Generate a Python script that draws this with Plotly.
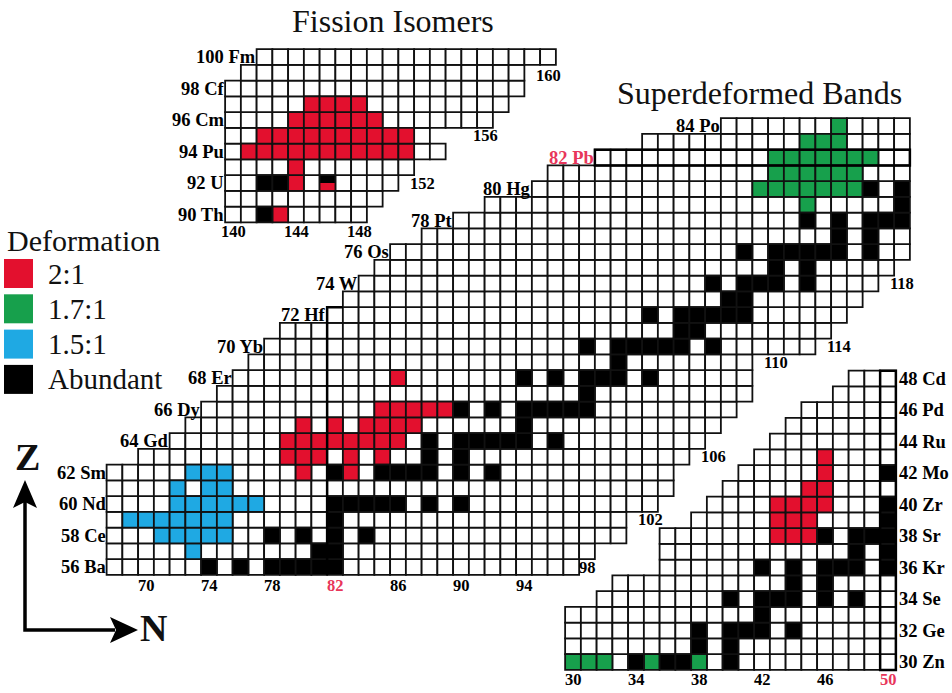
import plotly.graph_objects as go

FIG_W, FIG_H = 952, 693
CELL = 15.75          # pixels per unit of N or Z (square cells)
SERIF = "Liberation Serif"

RED = "#E3102E"
GREEN = "#17A04C"
BLUE = "#1FA9E3"
BLACK = "#000000"
LABEL_RED = "#E8365A"

# ---------------------------------------------------------------- main panel
main_Z = list(range(56, 85))
main_Nmin = [68, 68, 68, 68, 68, 68, 68,
             70, 72, 73, 74, 75, 76, 77, 78, 79,
             82, 83, 84, 85, 86, 88, 90, 92, 95, 96, 99, 102, 107]
main_Nmax = [97, 98, 100, 100, 102, 103, 103, 104, 105, 106, 107, 108, 108, 108,
             112, 113, 114, 115, 116, 117,
             118, 118, 118, 118, 118, 118, 118, 118, 118]
main_elem = {56: "Ba", 58: "Ce", 60: "Nd", 62: "Sm", 64: "Gd", 66: "Dy",
             68: "Er", 70: "Yb", 72: "Hf", 74: "W", 76: "Os", 78: "Pt",
             80: "Hg", 82: "Pb", 84: "Po"}
main_N_ticks = [70, 74, 78, 82, 86, 90, 94]
main_edge_N = [98, 102, 106, 110, 114, 118]
main_edge_Z = [56, 59, 63, 69, 70, 74]

main_stable = {
    56: [74, 76, 78, 79, 80, 81, 82], 57: [81, 82], 58: [78, 80, 82, 84],
    59: [82], 60: [82, 83, 84, 85, 86, 88, 90], 62: [82, 85, 86, 87, 88, 90, 92],
    63: [88, 90], 64: [88, 90, 91, 92, 93, 94, 96], 65: [94],
    66: [90, 92, 94, 95, 96, 97, 98], 67: [98], 68: [94, 96, 98, 99, 100, 102],
    69: [100], 70: [98, 100, 101, 102, 103, 104, 106], 71: [104, 105],
    72: [102, 104, 105, 106, 107, 108], 73: [107, 108],
    74: [106, 108, 109, 110, 112], 75: [110, 112],
    76: [108, 110, 111, 112, 113, 114, 116], 77: [114, 116],
    78: [112, 114, 116, 117, 118], 79: [118], 80: [116, 118],
}
main_red = {68: [86], 66: [85, 86, 87, 88, 89], 65: [80, 82, 84, 85, 86, 87],
            64: [79, 80, 81, 82, 83, 84, 85, 86], 63: [79, 80, 81, 83, 85],
            62: [80, 83]}
main_blue = {62: [73, 74, 75], 61: [72, 74, 75], 60: [72, 73, 74, 75, 76, 77],
             59: [69, 70, 71, 72, 73, 74, 75], 58: [71, 72, 73, 74, 75], 57: [73]}
main_green = {84: [114], 83: [112, 113, 114],
              82: [110, 111, 112, 113, 114, 115, 116],
              81: [110, 111, 112, 113, 114, 115],
              80: [109, 110, 111, 112, 113, 114, 115], 79: [112]}

# ----------------------------------------------------------- actinide panel
act_Z = list(range(90, 101))
act_Nmin = [140, 140, 140, 140, 140, 140, 140, 140, 140, 141, 142]
act_Nmax = [148, 149, 150, 151, 153, 152, 156, 157, 158, 158, 160]
act_elem = {90: "Th", 92: "U", 94: "Pu", 96: "Cm", 98: "Cf", 100: "Fm"}
act_N_ticks = [140, 144, 148]
act_edge_N = [152, 156, 160]
act_edge_Z = [92, 95, 98.8]
act_stable = {90: [142], 92: [142, 143, 146]}
act_red = {97: [145, 146, 147, 148], 96: [144, 145, 146, 147, 148, 149],
           95: list(range(142, 152)), 94: list(range(141, 152)),
           93: [144], 92: [144], 90: [143]}
act_split = [(92, 146)]   # abundant isotope that also has a fission isomer

# ------------------------------------------------------ lower-right panel
lr_Z = list(range(30, 49))
lr_Nmin = [30, 30, 30, 30, 32, 33, 36, 36, 36, 38, 39, 40, 41, 42, 43, 44, 45, 47, 48]
lr_Nmax = [50] * 19
lr_elem = {30: "Zn", 32: "Ge", 34: "Se", 36: "Kr", 38: "Sr", 40: "Zr",
           42: "Mo", 44: "Ru", 46: "Pd", 48: "Cd"}
lr_N_ticks = [30, 34, 38, 42, 46, 50]
lr_stable = {30: [34, 36, 37, 38, 40], 31: [38, 40], 32: [38, 40, 41, 42, 44],
             33: [42], 34: [40, 42, 43, 44, 46, 48], 35: [44, 46],
             36: [42, 44, 46, 47, 48, 50], 37: [48, 50], 38: [46, 48, 49, 50],
             39: [50], 40: [50], 42: [50]}
lr_red = {43: [46], 42: [46], 41: [45, 46], 40: [43, 44, 45, 46],
          39: [43, 44, 45], 38: [43, 44, 45]}
lr_green = {30: [30, 31, 32, 35, 38]}


# --------------------------------------------------------------- helpers
def x_range(ref_n, ref_px):
    lo = ref_n - ref_px / CELL
    return [lo, lo + FIG_W / CELL]


def y_range(ref_z, ref_px):
    hi = ref_z + ref_px / CELL
    return [hi - FIG_H / CELL, hi]


def classify(zs, nmins, nmaxs, stable, colours):
    """Return {category: ([N], [Z])} for every cell of a panel."""
    out = {k: ([], []) for k in ["white", "black", "red", "green", "blue"]}
    for z, n0, n1 in zip(zs, nmins, nmaxs):
        for n in range(n0, n1 + 1):
            cat = "white"
            if n in stable.get(z, []):
                cat = "black"
            for name, table in colours.items():
                if n in table.get(z, []):
                    cat = name
            out[cat][0].append(n)
            out[cat][1].append(z)
    return out


FILL = {"white": "white", "black": BLACK, "red": RED, "green": GREEN, "blue": BLUE}

fig = go.Figure()

panels = [
    ("x", "y", classify(main_Z, main_Nmin, main_Nmax, main_stable,
                        {"red": main_red, "green": main_green, "blue": main_blue})),
    ("x2", "y2", classify(act_Z, act_Nmin, act_Nmax, act_stable,
                          {"red": {z: [n for n in ns if (z, n) not in act_split]
                                   for z, ns in act_red.items()}})),
    ("x3", "y3", classify(lr_Z, lr_Nmin, lr_Nmax, lr_stable,
                          {"red": lr_red, "green": lr_green})),
]

for xa, ya, cells in panels:
    for cat in ["white", "blue", "green", "red", "black"]:
        ns, zs = cells[cat]
        if not ns:
            continue
        fig.add_trace(go.Scatter(
            x=ns, y=zs, xaxis=xa, yaxis=ya, mode="markers",
            marker=dict(symbol="square", size=CELL, color=FILL[cat],
                        line=dict(color="#111111", width=1.8)),
            hoverinfo="skip", showlegend=False, cliponaxis=False))

annotations = []
shapes = []


def label(text, x, y, xref, yref, size=18.5, color=BLACK, xanchor="center",
          bold=True, xshift=0):
    annotations.append(dict(
        text=f"<b>{text}</b>" if bold else text, x=x, y=y, xref=xref, yref=yref,
        showarrow=False, xanchor=xanchor, yanchor="middle", xshift=xshift,
        font=dict(family=SERIF, size=size, color=color)))


# element labels beside each row
for z, n0 in zip(main_Z, main_Nmin):
    if z in main_elem:
        label(f"{z} {main_elem[z]}", n0 - 0.5, z, "x", "y", xanchor="right",
              color=LABEL_RED if z == 82 else BLACK, xshift=1)
for n in main_N_ticks:
    label(str(n), n, 54.85, "x", "y", size=16.5,
          color=LABEL_RED if n == 82 else BLACK)
for n, z in zip(main_edge_N, main_edge_Z):
    label(str(n), n, z, "x", "y", size=16.5)

for z, n0 in zip(act_Z, act_Nmin):
    if z in act_elem:
        label(f"{z} {act_elem[z]}", n0 - 0.5, z, "x2", "y2", xanchor="right", xshift=1)
for n in act_N_ticks:
    label(str(n), n, 88.9, "x2", "y2", size=16.5)
for n, z in zip(act_edge_N, act_edge_Z):
    label(str(n), n, z, "x2", "y2", size=16.5)

for z, n1 in zip(lr_Z, lr_Nmax):
    if z in lr_elem:
        label(f"{z} {lr_elem[z]}", n1 + 0.5, z, "x3", "y3", xanchor="left", xshift=1)
for n in lr_N_ticks:
    label(str(n), n, 28.9, "x3", "y3", size=16.5,
          color=LABEL_RED if n == 50 else BLACK)

# half-filled cell: abundant isotope that also shows a fission isomer
for z, n in act_split:
    shapes.append(dict(type="rect", xref="x2", yref="y2", x0=n - 0.45, x1=n + 0.45,
                       y0=z - 0.45, y1=z, fillcolor=RED, line=dict(width=0)))

# closed-shell outlines
shapes.append(dict(type="rect", xref="x", yref="y", x0=98.5, x1=118.5, y0=81.5, y1=82.5,
                   line=dict(color=BLACK, width=2.5)))
shapes.append(dict(type="path", xref="x", yref="y",
                   path="M81.5,55.5 L81.5,72.5 L82.5,72.5",
                   line=dict(color=BLACK, width=2.5)))
shapes.append(dict(type="rect", xref="x3", yref="y3", x0=49.5, x1=50.5, y0=29.5, y1=48.5,
                   line=dict(color=BLACK, width=2.5)))


# ------------------------------------------------ titles, legend, N/Z arrows
def px(x, y):
    return x / FIG_W, 1 - y / FIG_H


def paper_text(text, x, y, size, xanchor="center", bold=False):
    xp, yp = px(x, y)
    annotations.append(dict(
        text=f"<b>{text}</b>" if bold else text, x=xp, y=yp, xref="paper",
        yref="paper", showarrow=False, xanchor=xanchor, yanchor="middle",
        font=dict(family=SERIF, size=size, color="#111111")))


paper_text("Fission Isomers", 393, 21, 32)
paper_text("Superdeformed Bands", 759, 93, 32)
paper_text("Deformation", 5, 240, 30, xanchor="left")

legend_items = [("2:1", RED), ("1.7:1", GREEN), ("1.5:1", BLUE), ("Abundant", BLACK)]
for i, (txt, col) in enumerate(legend_items):
    top = 259 + i * 35.3
    x0, y0 = px(4, top)
    x1, y1 = px(33, top + 29)
    shapes.append(dict(type="rect", xref="paper", yref="paper", x0=x0, x1=x1,
                       y0=y1, y1=y0, fillcolor=col, line=dict(width=0)))
    paper_text(txt, 46, top + 14.5, 29, xanchor="left")


def paper_path(points, fill=None, width=3.5):
    d = ""
    for k, (a, b) in enumerate(points):
        xp, yp = px(a, b)
        d += ("M" if k == 0 else "L") + f"{xp:.5f},{yp:.5f} "
    if fill:
        d += "Z"
    shapes.append(dict(type="path", xref="paper", yref="paper", path=d,
                       fillcolor=fill, line=dict(color=BLACK, width=0 if fill else width)))


paper_path([(25, 500), (25, 630), (115, 630)])
paper_path([(25, 480), (13, 508), (25, 502), (37, 508)], fill=BLACK)
paper_path([(138, 630), (110, 617), (116, 630), (110, 643)], fill=BLACK)
paper_text("Z", 27, 457, 38, bold=True)
paper_text("N", 153, 628, 38, bold=True)

axis_common = dict(visible=False, fixedrange=True, domain=[0, 1])
fig.update_layout(
    width=FIG_W, height=FIG_H, margin=dict(l=0, r=0, t=0, b=0),
    paper_bgcolor="white", plot_bgcolor="rgba(0,0,0,0)", showlegend=False,
    xaxis=dict(axis_common, range=x_range(70, 146), anchor="y"),
    yaxis=dict(axis_common, range=y_range(56, 567), anchor="x"),
    xaxis2=dict(axis_common, range=x_range(140, 233), anchor="y2", overlaying="x"),
    yaxis2=dict(axis_common, range=y_range(100, 57), anchor="x2", overlaying="y"),
    xaxis3=dict(axis_common, range=x_range(50, 888), anchor="y3", overlaying="x"),
    yaxis3=dict(axis_common, range=y_range(30, 662), anchor="x3", overlaying="y"),
    annotations=annotations, shapes=shapes,
)

fig.write_html("out.html")
